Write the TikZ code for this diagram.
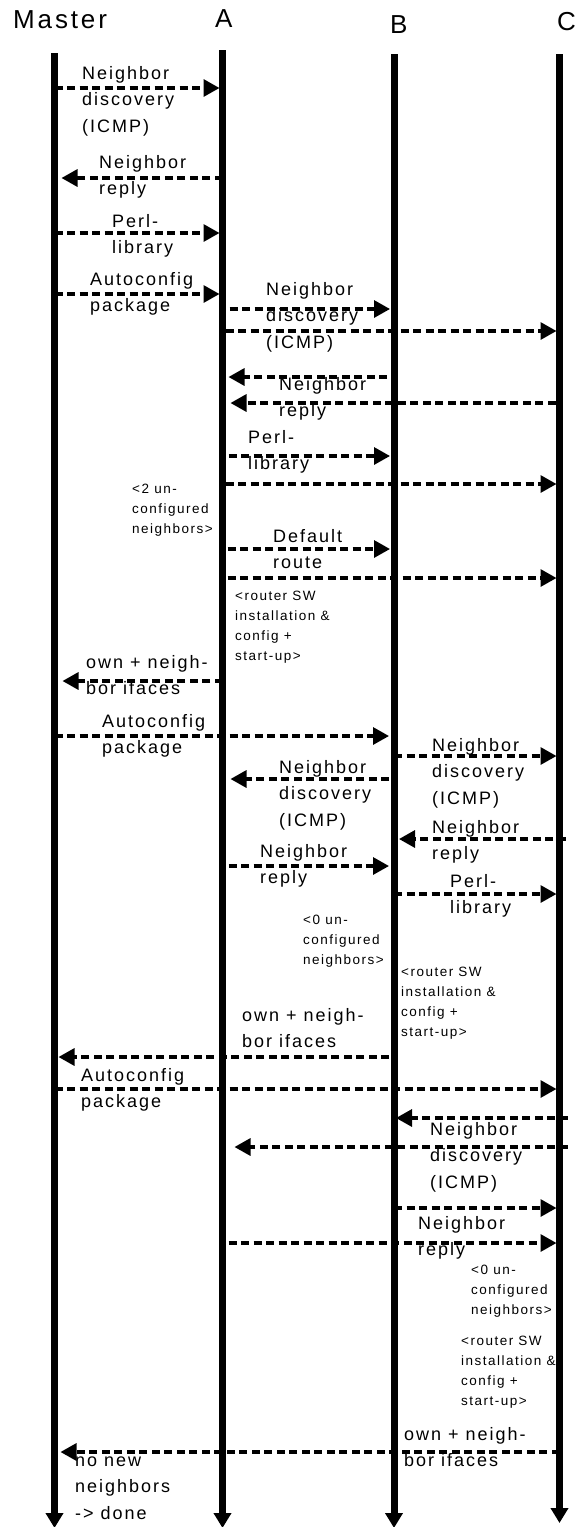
\documentclass[tikz,border=0pt]{standalone}
\usepackage{fontspec}
\setmainfont{Liberation Sans}[LetterSpace=11]
\usetikzlibrary{arrows.meta}

\tikzset{
  x=1pt, y=-1pt,
  life/.style={line width=7pt, -{Triangle[length=15pt,width=17pt]}},
  msg/.style={line width=3.2pt, dash pattern=on 8pt off 4.5pt,
    -{Triangle[length=16pt,width=17pt]}, shorten >=3pt},
  % labels are placed by the baseline of their first line
  lbl/.style={anchor=base west, inner sep=0pt, align=left,
    font=\fontsize{18}{26.7}\selectfont},
  lbl2/.style={lbl, yshift=-26.7pt},
  lbl3/.style={lbl, yshift=-53.4pt},
  note/.style={anchor=base west, inner sep=0pt, align=left,
    font=\fontsize{13.5}{20.2}\selectfont},
  note3/.style={note, yshift=-40.4pt},
  note4/.style={note, yshift=-60.6pt},
  head/.style={anchor=base west, inner sep=0pt,
    font=\fontsize{26}{30}\selectfont},
}

% one dashed message between two lifelines at height #4
\newcommand\msgline[4][]{\draw[msg,#1] (#2 |- 0,#4) -- (#3 |- 0,#4);}

\begin{document}
\begin{tikzpicture}
\useasboundingbox (0,0) rectangle (578,1527);

% lifeline heads
\node[head] (mName) at (13,28) {Master};
\node[head] (aName) at (215,27) {A};
\node[head] (bName) at (390,33) {B};
\node[head] (cName) at (557,30) {C};

% lifelines
\coordinate (mTop) at (54.5,53);  \coordinate (mBot) at (54.5,1528);
\coordinate (aTop) at (222.5,50); \coordinate (aBot) at (222.5,1528);
\coordinate (bTop) at (394,54);   \coordinate (bBot) at (394,1528);
\coordinate (cTop) at (559.5,54); \coordinate (cBot) at (559.5,1523);
\draw[life] (mTop) -- (mBot);
\draw[life] (aTop) -- (aBot);
\draw[life] (bTop) -- (bBot);
\draw[life] (cTop) -- (cBot);

% Master configures A
\msgline{mTop}{aTop}{88}
\node[lbl3] (l1) at (82,79) {Neighbor\\discovery\\(ICMP)};
\msgline[shorten >=7pt]{aTop}{mTop}{178}
\node[lbl2] (l2) at (99,168) {Neighbor\\reply};
\msgline{mTop}{aTop}{233}
\node[lbl2] (l3) at (112,227) {Perl-\\library};
\msgline{mTop}{aTop}{294}
\node[lbl2] (l4) at (90,285) {Autoconfig\\package};

% A discovers B and C
\msgline[shorten <=7pt, shorten >=4pt]{aTop}{bTop}{309}
\msgline[shorten <=3pt]{aTop}{cTop}{331}
\node[lbl3] (l5) at (266,295) {Neighbor\\discovery\\(ICMP)};
\msgline[shorten <=7pt, shorten >=6pt]{bTop}{aTop}{377}
\msgline[shorten <=4pt, shorten >=8pt]{cTop}{aTop}{403}
\node[lbl2] (l6) at (279,390) {Neighbor\\reply};
\msgline[shorten <=6pt, shorten >=4pt]{aTop}{bTop}{456}
\msgline[shorten <=3pt]{aTop}{cTop}{484}
\node[lbl2] (l7) at (248,443) {Perl-\\library};
\node[note3] (n1) at (132,493) {<2 un-\\configured\\neighbors>};
\msgline[shorten <=5pt, shorten >=4pt]{aTop}{bTop}{549}
\msgline[shorten <=5pt]{aTop}{cTop}{578}
\node[lbl2] (l8) at (273,542) {Default\\route};
\node[note4] (n2) at (235,600) {<router SW\\installation \&\\config +\\start-up>};
\msgline[shorten >=8pt]{aTop}{mTop}{681}
\node[lbl2] (l9) at (86,668) {own + neigh-\\bor ifaces};

% Master configures B
\msgline[shorten >=5pt]{mTop}{bTop}{736}
\node[lbl2] (l10) at (102,727) {Autoconfig\\package};
\msgline{bTop}{cTop}{756}
\node[lbl3] (l11) at (432,751) {Neighbor\\discovery\\(ICMP)};
\msgline[shorten <=5pt, shorten >=8pt]{bTop}{aTop}{779}
\node[lbl3] (l12) at (279,773) {Neighbor\\discovery\\(ICMP)};
\msgline[shorten <=-6pt, shorten >=5pt]{cTop}{bTop}{839}
\node[lbl2] (l13) at (432,833) {Neighbor\\reply};
\msgline[shorten <=6pt, shorten >=5pt]{aTop}{bTop}{866}
\node[lbl2] (l14) at (260,857) {Neighbor\\reply};
\msgline{bTop}{cTop}{894}
\node[lbl2] (l15) at (450,887) {Perl-\\library};
\node[note3] (n3) at (303,924) {<0 un-\\configured\\neighbors>};
\node[note4] (n4) at (401,976) {<router SW\\installation \&\\config +\\start-up>};
\msgline[shorten <=5pt, shorten >=4pt]{bTop}{mTop}{1057}
\node[lbl2] (l16) at (242,1021) {own + neigh-\\bor ifaces};

% Master configures C
\msgline{mTop}{cTop}{1089}
\node[lbl2] (l17) at (81,1081) {Autoconfig\\package};
\msgline[shorten <=-8pt, shorten >=2pt]{cTop}{bTop}{1118}
\msgline[shorten <=-8pt, shorten >=12pt]{cTop}{aTop}{1147}
\node[lbl3] (l18) at (430,1135) {Neighbor\\discovery\\(ICMP)};
\msgline{bTop}{cTop}{1208}
\msgline[shorten <=6pt]{aTop}{cTop}{1243}
\node[lbl2] (l19) at (418,1229) {Neighbor\\reply};
\node[note3] (n5) at (471,1274) {<0 un-\\configured\\neighbors>};
\node[note4] (n6) at (461,1345) {<router SW\\installation \&\\config +\\start-up>};
\msgline[shorten >=6pt]{cTop}{mTop}{1452}
\node[lbl2] (l20) at (404,1440) {own + neigh-\\bor ifaces};
\node[lbl3] (l21) at (75,1466) {no new\\neighbors\\-> done};
\end{tikzpicture}
\end{document}
